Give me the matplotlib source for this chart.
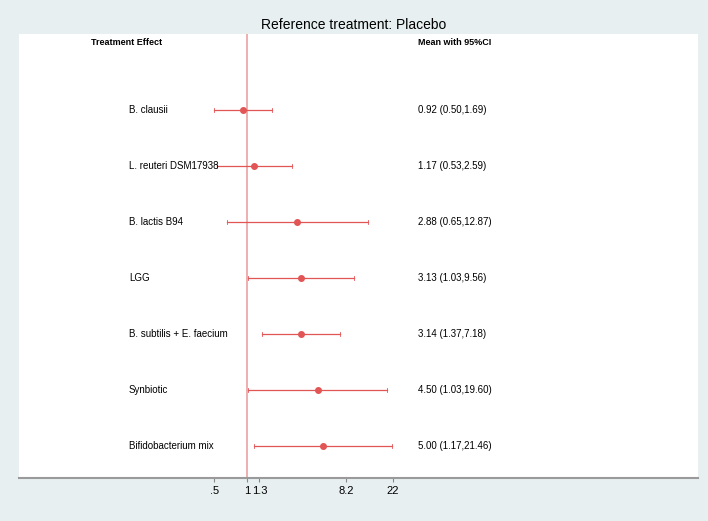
import matplotlib
matplotlib.use("Agg")
import matplotlib.pyplot as plt
import matplotlib.transforms as mtransforms

plt.rcParams['font.family'] = ['Liberation Sans', 'DejaVu Sans']

treatments = ['B. clausii', 'L. reuteri DSM17938', 'B. lactis B94', 'LGG',
              'B. subtilis + E. faecium', 'Synbiotic', 'Bifidobacterium mix']
mean = [0.92, 1.17, 2.88, 3.13, 3.14, 4.50, 5.00]
lower = [0.50, 0.53, 0.65, 1.03, 1.37, 1.03, 1.17]
upper = [1.69, 2.59, 12.87, 9.56, 7.18, 19.60, 21.46]
tick_vals = [0.5, 1, 1.3, 8.2, 22]
tick_labels = ['.5', '1', '1.3', '8.2', '22']

bg = '#e7eff1'
red = '#e25555'

fig = plt.figure(figsize=(7.08, 5.21), dpi=100, facecolor=bg)
ax = fig.add_axes([19/708, 1 - 478/521, 679/708, 444/521])
ax.set_facecolor('white')

rows = list(range(len(treatments)))
ax.axvline(1, color='#e99a9a', lw=1.1, zorder=1)
for i in rows:
    ax.plot([lower[i], upper[i]], [i, i], color=red, lw=0.9, zorder=2)
    ax.plot([lower[i], lower[i]], [i - 0.03, i + 0.03], color=red, lw=0.6)
    ax.plot([upper[i], upper[i]], [i - 0.03, i + 0.03], color=red, lw=0.6)
ax.plot(mean, rows, 'o', color=red, ms=4, zorder=3)

ax.set_xscale('log')
ax.set_xlim(0.00798, 14130)
ax.set_ylim(6.571, -1.357)
ax.set_xticks(tick_vals)
ax.set_xticklabels(tick_labels, fontsize=8)
ax.minorticks_off()
ax.set_yticks([])
ax.tick_params(axis='x', length=3, width=0.8, color='#888888', pad=3)
for s in ['top', 'left', 'right']:
    ax.spines[s].set_visible(False)
ax.spines['bottom'].set_color('#9a9a9a')
ax.spines['bottom'].set_linewidth(1.5)

trans = mtransforms.blended_transform_factory(ax.transAxes, ax.transData)
for i in rows:
    ax.text(0.162, i, treatments[i], transform=trans, fontsize=7, va='center', ha='left')
    ax.text(0.588, i, '%.2f (%.2f,%.2f)' % (mean[i], lower[i], upper[i]),
            transform=trans, fontsize=7, va='center', ha='left')
ax.text(0.159, -1.2, 'Treatment Effect', transform=trans, fontsize=6.5,
        fontweight='bold', va='center', ha='center')
ax.text(0.588, -1.2, 'Mean with 95%CI', transform=trans, fontsize=6.5,
        fontweight='bold', va='center', ha='left')

fig.text(0.5, 1 - 25/521, 'Reference treatment: Placebo', fontsize=10,
         ha='center', va='center')

fig.savefig('out.png', dpi=100, facecolor=bg)
